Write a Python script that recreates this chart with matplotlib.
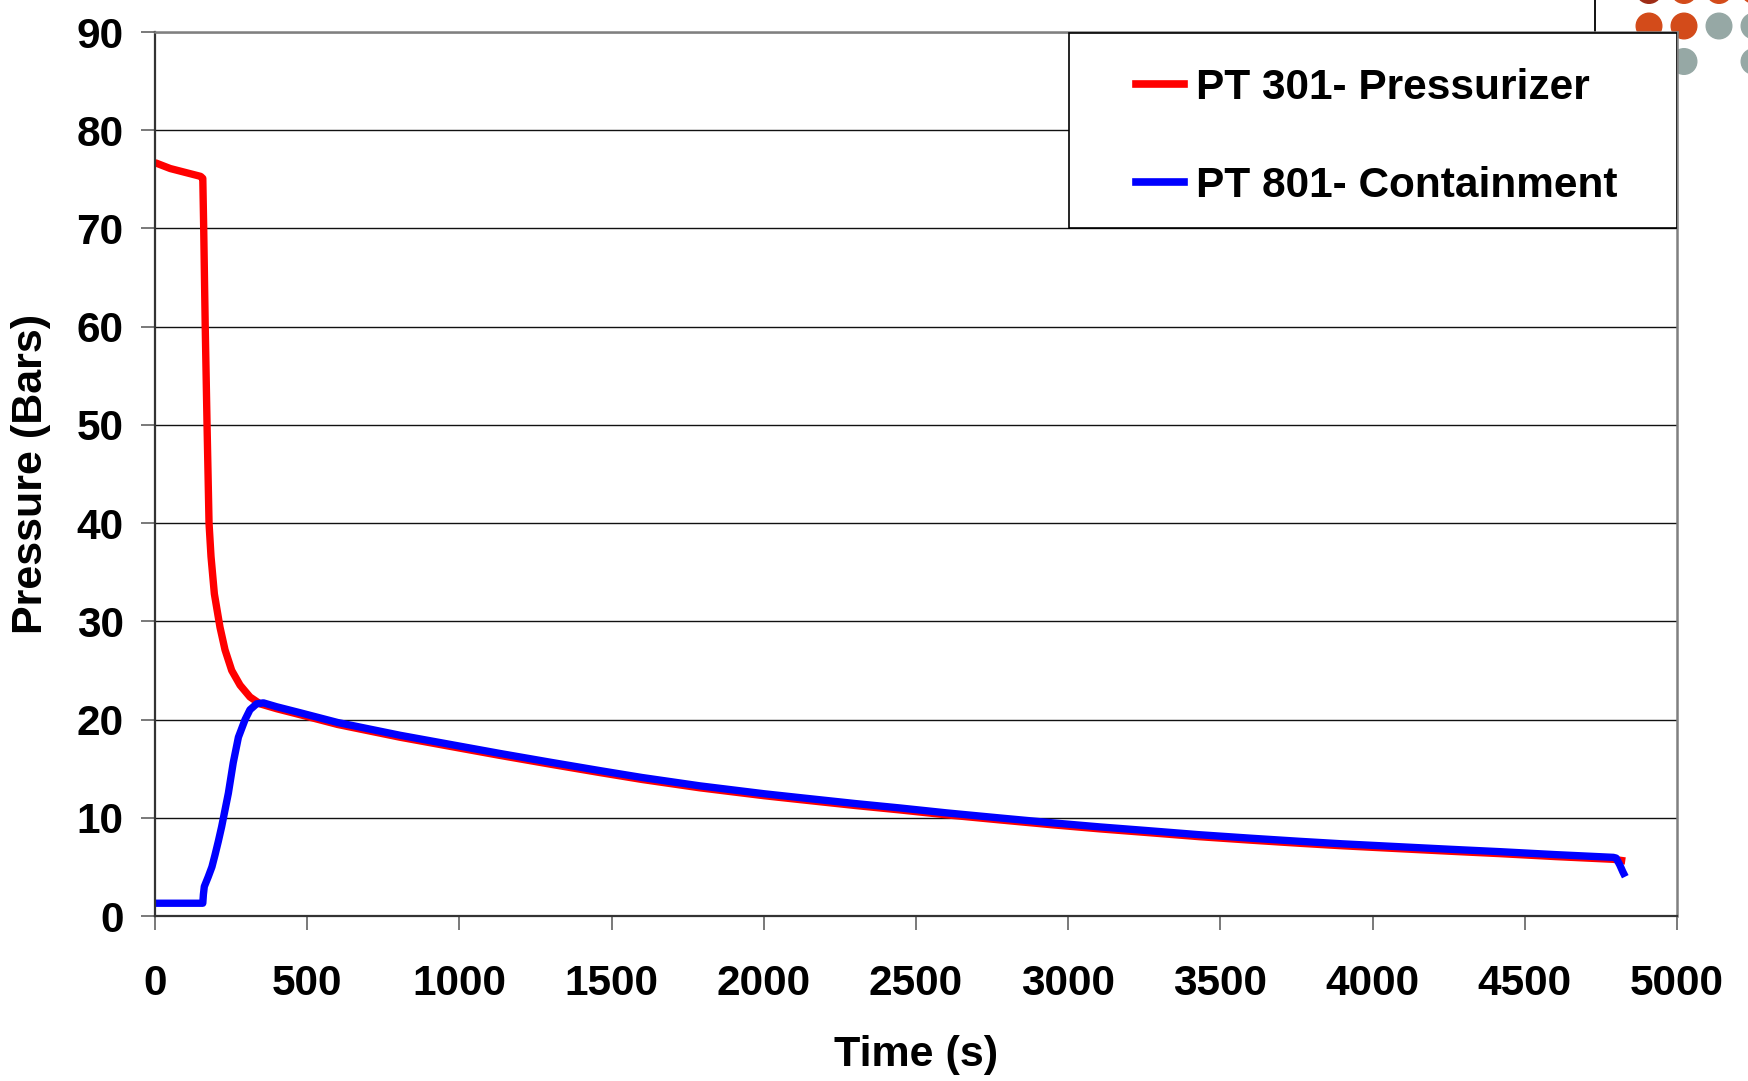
import matplotlib
matplotlib.use("Agg")
import matplotlib.pyplot as plt
from matplotlib.patches import Circle, Rectangle
from matplotlib.lines import Line2D

plt.rcParams['font.family'] = ['Liberation Sans', 'DejaVu Sans']
plt.rcParams['font.weight'] = 'bold'

# PT 301 - pressurizer (red)
t_pressurizer = [0, 25, 50, 75, 100, 125, 150, 157, 160, 165, 171, 177.5, 184, 195, 213.5,
                 230, 252, 279.5, 312, 345, 400, 476, 600, 805, 1000, 1133, 1300, 1462,
                 1600, 1790, 2000, 2119, 2300, 2447, 2600, 2776, 2950, 3104, 3250, 3433,
                 3600, 3762, 3900, 4090, 4250, 4418, 4600, 4791, 4830]
p_pressurizer = [76.7, 76.4, 76.1, 75.9, 75.7, 75.5, 75.3, 75.1, 70.0, 60.0, 50.0, 40.0,
                 36.6, 32.8, 29.4, 27.1, 25.0, 23.5, 22.3, 21.6, 21.1, 20.5, 19.5, 18.2,
                 17.1, 16.35, 15.45, 14.6, 13.9, 13.05, 12.25, 11.85, 11.25, 10.8, 10.3,
                 9.78, 9.28, 8.87, 8.52, 8.07, 7.72, 7.4, 7.15, 6.85, 6.6, 6.35, 6.05,
                 5.77, 5.6]

# PT 801 - containment (blue)
t_containment = [0, 50, 100, 157, 159, 162, 175, 187, 197, 208, 219, 230, 241, 257, 274,
                 296, 312, 334, 356, 400, 476, 600, 805, 1000, 1133, 1300, 1462, 1600,
                 1790, 2000, 2119, 2300, 2447, 2600, 2776, 2950, 3104, 3250, 3433, 3600,
                 3762, 3900, 4090, 4250, 4418, 4600, 4791, 4800, 4812, 4822, 4830]
p_containment = [1.3, 1.3, 1.3, 1.3, 2.2, 3.0, 4.0, 5.0, 6.2, 7.6, 9.1, 10.8, 12.5, 15.6,
                 18.2, 20.0, 21.0, 21.6, 21.7, 21.3, 20.7, 19.7, 18.4, 17.3, 16.55, 15.65,
                 14.8, 14.1, 13.25, 12.45, 12.05, 11.45, 11.0, 10.5, 9.98, 9.48, 9.07,
                 8.72, 8.27, 7.92, 7.6, 7.35, 7.05, 6.8, 6.55, 6.25, 5.97, 5.9, 5.2, 4.5,
                 4.0]

labels = ["PT 301- Pressurizer", "PT 801- Containment"]
x_ticks = list(range(0, 5001, 500))
y_ticks = list(range(0, 91, 10))

W, H = 1748, 1081
fig = plt.figure(figsize=(W / 100, H / 100), dpi=100)
ax = fig.add_axes([155 / W, 1 - 916 / H, 1522 / W, 884 / H])

# slide decoration in the top right corner (dots + thin line)
dots = [(1649, -9.5, '#9E2C17'), (1684, -9.5, '#D34B1A'), (1719, -9.5, '#D34B1A'), (1754, -9.5, '#D34B1A'),
        (1649, 26, '#D34B1A'), (1684, 26, '#D34B1A'), (1719, 26, '#96A8A5'), (1754, 26, '#96A8A5'),
        (1649, 61.5, '#96A8A5'), (1684, 61.5, '#96A8A5'), (1754, 61.5, '#96A8A5')]
for px, py, c in dots:
    fig.add_artist(Circle((px / 100, (H - py) / 100), 0.128, color=c,
                          transform=fig.dpi_scale_trans, zorder=-1))
fig.add_artist(Line2D([15.95, 15.95], [H / 100, (H - 33) / 100], color='black', lw=1.3,
                      transform=fig.dpi_scale_trans, zorder=-1))

ax.plot(t_pressurizer, p_pressurizer, color='#FF0000', lw=5.3, solid_capstyle='butt', zorder=2)
ax.plot(t_containment, p_containment, color='#0000FF', lw=5.3, solid_capstyle='butt', zorder=2.1)

ax.set_xlim(0, 5000)
ax.set_ylim(0, 90)
ax.set_xticks(x_ticks)
ax.set_yticks(y_ticks)
ax.tick_params(axis='x', direction='out', length=10, width=1.1, color='#555555',
               labelsize=30.5, pad=24.5)
ax.tick_params(axis='y', direction='out', length=10, width=1.1, color='#555555',
               labelsize=30.5, pad=12.5)
ax.yaxis.grid(True, color='#111111', lw=1.0)
ax.set_axisbelow(True)

for side in ['left', 'bottom']:
    ax.spines[side].set_color('#333333')
    ax.spines[side].set_linewidth(1.6)
for side in ['top', 'right']:
    ax.spines[side].set_color('#808080')
    ax.spines[side].set_linewidth(1.8)

ax.set_xlabel("Time (s)", fontsize=31, fontweight='bold')
ax.set_ylabel("Pressure (Bars)", fontsize=31, fontweight='bold')
ax.xaxis.set_label_coords(0.5, (916 - 1055) / 884)
ax.xaxis.label.set_va('center')
ax.yaxis.set_label_coords((31 - 155) / 1522, 0.5)
ax.yaxis.label.set_va('center')

# legend box
ax.add_patch(Rectangle(((1069 - 155) / 1522, (916 - 228) / 884), (1677 - 1069) / 1522,
                       (228 - 33) / 884, transform=ax.transAxes, facecolor='white',
                       edgecolor='black', lw=1.2, zorder=3))
handles = [Line2D([], [], color='#FF0000', lw=5.5), Line2D([], [], color='#0000FF', lw=5.5)]
leg = ax.legend(handles, labels, loc='upper left',
                bbox_to_anchor=((1135.5 - 155) / 1522, (916 - 68) / 884),
                frameon=False, borderpad=0, borderaxespad=0, handlelength=1.14,
                handletextpad=0.3, labelspacing=1.37, prop={'size': 30.5, 'weight': 'bold'})
leg.set_zorder(5)

fig.savefig("out.png", dpi=100)
